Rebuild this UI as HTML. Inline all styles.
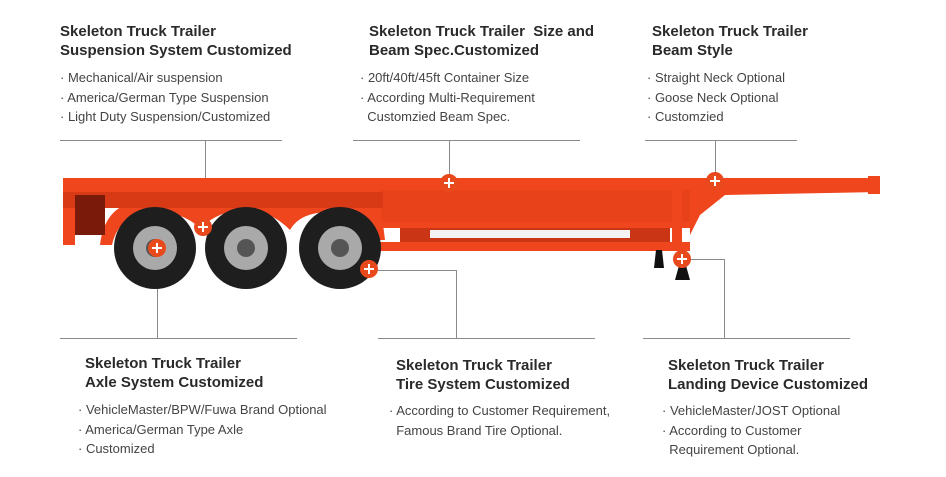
<!DOCTYPE html>
<html><head><meta charset="utf-8"><style>
body{margin:0;width:946px;height:477px;background:#fff;position:relative;overflow:hidden;font-family:"Liberation Sans",Arial,sans-serif;color:#333}
.t{position:absolute;font-weight:bold;font-size:15px;line-height:19px;color:#2a2a2a;white-space:nowrap}
.b{position:absolute;font-size:13px;line-height:19.5px;color:#444;white-space:nowrap}
svg{position:absolute;left:0;top:0}
</style></head><body>
<svg width="946" height="477" viewBox="0 0 946 477">
<g stroke="#8a8a8a" stroke-width="1" fill="none">
<line x1="60" y1="140.5" x2="282" y2="140.5"/><line x1="205.5" y1="140" x2="205.5" y2="180"/>
<line x1="353" y1="140.5" x2="580" y2="140.5"/><line x1="449.5" y1="140" x2="449.5" y2="180"/>
<line x1="645" y1="140.5" x2="797" y2="140.5"/><line x1="715.5" y1="140" x2="715.5" y2="178"/>
<line x1="60" y1="338.5" x2="297" y2="338.5"/><line x1="157.5" y1="255" x2="157.5" y2="338"/>
<line x1="378" y1="338.5" x2="595" y2="338.5"/><polyline points="372,270.5 456.5,270.5 456.5,338"/>
<line x1="643" y1="338.5" x2="850" y2="338.5"/><polyline points="685,259.5 724.5,259.5 724.5,338"/>
</g>
<!-- trailer -->
<g fill="#f0461e">
<rect x="63" y="178" width="630" height="14"/>
<polygon points="690,178 880,178 880,192 725,195 700,215 690,235"/>
<rect x="63" y="190" width="12" height="55"/>
<rect x="380" y="220" width="310" height="8"/>
<rect x="380" y="242" width="310" height="9"/>
<rect x="380" y="190" width="310" height="32" fill="#e8421a"/>
<rect x="672" y="190" width="10" height="60"/>
<path d="M100 245 Q105 200 150 200 L380 200 L385 240 L370 240 Q360 212 330 212 Q300 212 290 230 Q270 210 245 210 Q220 210 200 228 Q180 210 150 212 Q118 216 112 245Z"/>
<rect x="63" y="192" width="320" height="16" fill="#d83a16"/>
<rect x="400" y="228" width="270" height="14" fill="#c93515"/>
<rect x="430" y="230" width="200" height="8" fill="#f3f3f3"/>
</g>
<rect x="75" y="195" width="30" height="40" fill="#7a1a0a"/>
<rect x="868" y="176" width="12" height="18" fill="#f0461e"/>
<!-- wheels -->
<g>
<circle cx="155" cy="248" r="41" fill="#1e1e1e"/><circle cx="155" cy="248" r="22" fill="#a9a9a9"/><circle cx="155" cy="248" r="9" fill="#555"/>
<circle cx="246" cy="248" r="41" fill="#1e1e1e"/><circle cx="246" cy="248" r="22" fill="#a9a9a9"/><circle cx="246" cy="248" r="9" fill="#555"/>
<circle cx="340" cy="248" r="41" fill="#1e1e1e"/><circle cx="340" cy="248" r="22" fill="#a9a9a9"/><circle cx="340" cy="248" r="9" fill="#555"/>
</g>
<g fill="#111"><polygon points="654,268 664,268 662,250 656,250"/><polygon points="675,280 690,280 685,262 680,262"/></g>
<!-- plus markers -->
<g>
<circle cx="449" cy="183" r="9" fill="#e8491d"/><circle cx="715" cy="181" r="9" fill="#e8491d"/>
<circle cx="203" cy="227" r="9" fill="#e8491d"/><circle cx="157" cy="248" r="9" fill="#e8491d"/>
<circle cx="369" cy="269" r="9" fill="#e8491d"/><circle cx="682" cy="259" r="9" fill="#e8491d"/>
</g>
<g stroke="#fff" stroke-width="2">
<path d="M444 183h10M449 178v10M710 181h10M715 176v10M198 227h10M203 222v10M152 248h10M157 243v10M364 269h10M369 264v10M677 259h10M682 254v10"/>
</g>
</svg>
<div class="t" style="left:60px;top:22px">Skeleton Truck Trailer<br>Suspension System Customized</div>
<div class="b" style="left:60px;top:68px">· Mechanical/Air suspension<br>· America/German Type Suspension<br>· Light Duty Suspension/Customized</div>
<div class="t" style="left:369px;top:22px">Skeleton Truck Trailer&nbsp; Size and<br>Beam Spec.Customized</div>
<div class="b" style="left:360px;top:68px">· 20ft/40ft/45ft Container Size<br>· According Multi-Requirement<br>&nbsp; Customzied Beam Spec.</div>
<div class="t" style="left:652px;top:22px">Skeleton Truck Trailer<br>Beam Style</div>
<div class="b" style="left:647px;top:68px">· Straight Neck Optional<br>· Goose Neck Optional<br>· Customzied</div>
<div class="t" style="left:85px;top:354px">Skeleton Truck Trailer<br>Axle System Customized</div>
<div class="b" style="left:78px;top:400px">· VehicleMaster/BPW/Fuwa Brand Optional<br>· America/German Type Axle<br>· Customized</div>
<div class="t" style="left:396px;top:356px">Skeleton Truck Trailer<br>Tire System Customized</div>
<div class="b" style="left:389px;top:401px">· According to Customer Requirement,<br>&nbsp; Famous Brand Tire Optional.</div>
<div class="t" style="left:668px;top:356px">Skeleton Truck Trailer<br>Landing Device Customized</div>
<div class="b" style="left:662px;top:401px">· VehicleMaster/JOST Optional<br>· According to Customer<br>&nbsp; Requirement Optional.</div>
</body></html>
